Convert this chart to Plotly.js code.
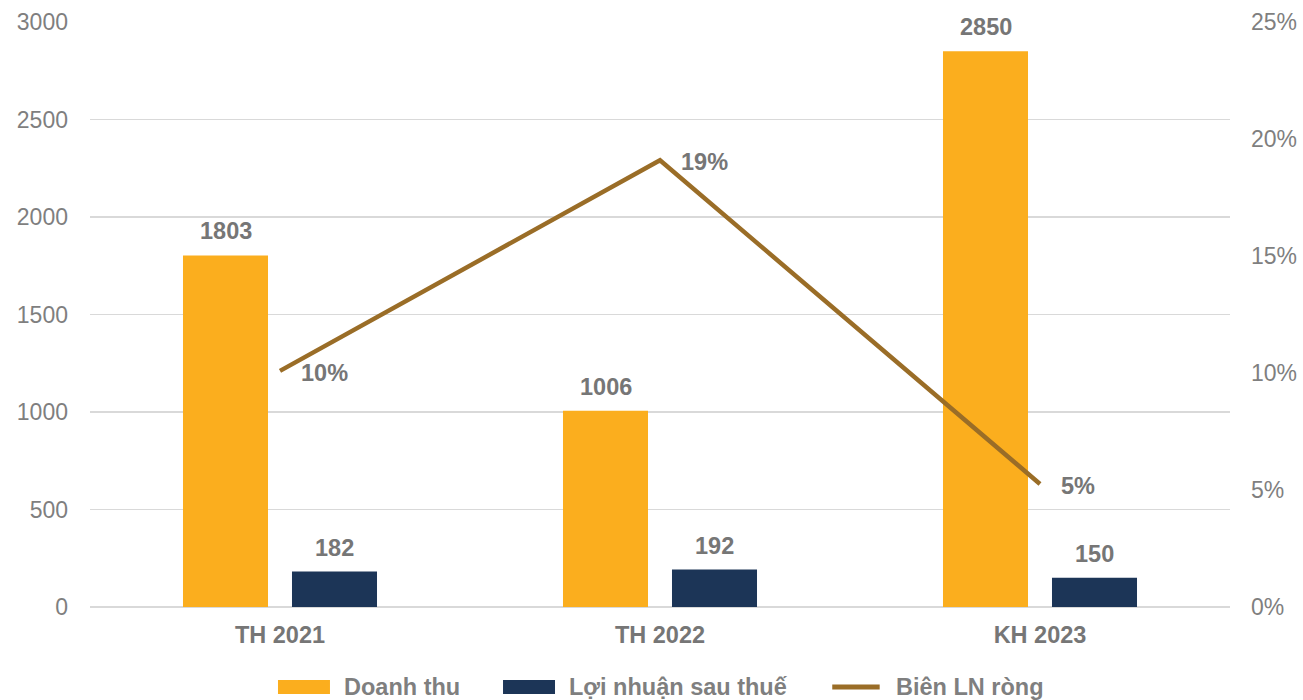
<!DOCTYPE html>
<html>
<head>
<meta charset="utf-8">
<script src="https://cdn.plot.ly/plotly-3.0.1.min.js"></script>
<style>html,body{margin:0;padding:0;background:#fff;}#chart{width:1303px;height:700px;}</style>
</head>
<body>
<div id="chart"></div>
<script>
var categories = ["TH 2021", "TH 2022", "KH 2023"];
var doanhThu = [1803, 1006, 2850];
var loiNhuan = [182, 192, 150];
var bienLN = [0.1009, 0.1909, 0.0526];
var bienLNLabels = ["10%", "19%", "5%"];
var seriesNames = ["Doanh thu", "Lợi nhuận sau thuế", "Biên LN ròng"];
var colors = ["#FBAE1E", "#1C3557", "#9A6D27"];

var FONT = "Liberation Sans, Arial, sans-serif";
var GRAY = "#7F7F7F";
var LBL = "#767676";
var BOLD = 23.5;

var traces = [
  {type: "bar", x: categories, y: doanhThu, name: seriesNames[0], marker: {color: colors[0]}, hoverinfo: "x+y"},
  {type: "bar", x: categories, y: loiNhuan, name: seriesNames[1], marker: {color: colors[1]}, hoverinfo: "x+y"},
  {type: "scatter", mode: "lines", x: categories, y: bienLN, yaxis: "y2", name: seriesNames[2],
   line: {color: colors[2], width: 4.5}}
];

var annotations = [];
function addBarLabels(vals, shift) {
  for (var i = 0; i < vals.length; i++) {
    annotations.push({x: categories[i], y: vals[i], xref: "x", yref: "y", text: String(vals[i]),
      showarrow: false, xanchor: "center", yanchor: "bottom", xshift: shift, yshift: 9,
      font: {family: FONT, size: BOLD, color: LBL, weight: "bold"}});
  }
}
addBarLabels(doanhThu, -54.5);
addBarLabels(loiNhuan, 54.5);
for (var i = 0; i < bienLN.length; i++) {
  annotations.push({x: categories[i], y: bienLN[i], xref: "x", yref: "y2", text: bienLNLabels[i],
    showarrow: false, xanchor: "left", yanchor: "middle", xshift: 19, yshift: -2,
    font: {family: FONT, size: BOLD, color: LBL, weight: "bold"}});
}

// custom legend
var shapes = [];
var legX = [0.1649, 0.3623, 0.6491];
var legW = 0.0456;
var legY = -0.1368;
for (var k = 0; k < 3; k++) {
  if (k < 2) {
    shapes.push({type: "rect", xref: "paper", yref: "paper", x0: legX[k], x1: legX[k] + legW,
      y0: legY - 0.012, y1: legY + 0.012, fillcolor: colors[k], line: {width: 0}});
  } else {
    shapes.push({type: "line", xref: "paper", yref: "paper", x0: legX[k] + 0.002, x1: legX[k] + legW - 0.002,
      y0: legY, y1: legY, line: {color: colors[k], width: 5}});
  }
  annotations.push({xref: "paper", yref: "paper", x: legX[k] + legW + 0.0105, y: legY, text: seriesNames[k],
    showarrow: false, xanchor: "left", yanchor: "middle",
    font: {family: FONT, size: BOLD, color: GRAY, weight: "bold"}});
}

var layout = {
  width: 1303, height: 700,
  margin: {l: 90, r: 73, t: 22, b: 93},
  paper_bgcolor: "#fff", plot_bgcolor: "#fff",
  barmode: "group", bargap: 0.4263, bargroupgap: 0.22,
  showlegend: false,
  font: {family: FONT, color: GRAY},
  xaxis: {type: "category", showgrid: false, showline: false, zeroline: false, ticks: "",
    ticklabelstandoff: 11,
    tickfont: {family: FONT, size: BOLD, color: LBL, weight: "bold"}},
  yaxis: {range: [0, 3000], tickvals: [0, 500, 1000, 1500, 2000, 2500, 3000],
    showgrid: true, gridcolor: "#D9D9D9", gridwidth: 1.5, zeroline: true, zerolinecolor: "#D9D9D9", zerolinewidth: 1.5,
    showline: false, ticks: "", ticklabelstandoff: 21,
    tickfont: {family: FONT, size: 23, color: GRAY}},
  yaxis2: {range: [0, 0.25], overlaying: "y", side: "right", tickformat: ".0%",
    tickvals: [0, 0.05, 0.10, 0.15, 0.20, 0.25],
    showgrid: false, zeroline: false, showline: false, ticks: "", ticklabelstandoff: 20,
    tickfont: {family: FONT, size: 23, color: GRAY}},
  annotations: annotations,
  shapes: shapes
};

Plotly.newPlot("chart", traces, layout, {displayModeBar: false, staticPlot: true});
</script>
</body>
</html>
